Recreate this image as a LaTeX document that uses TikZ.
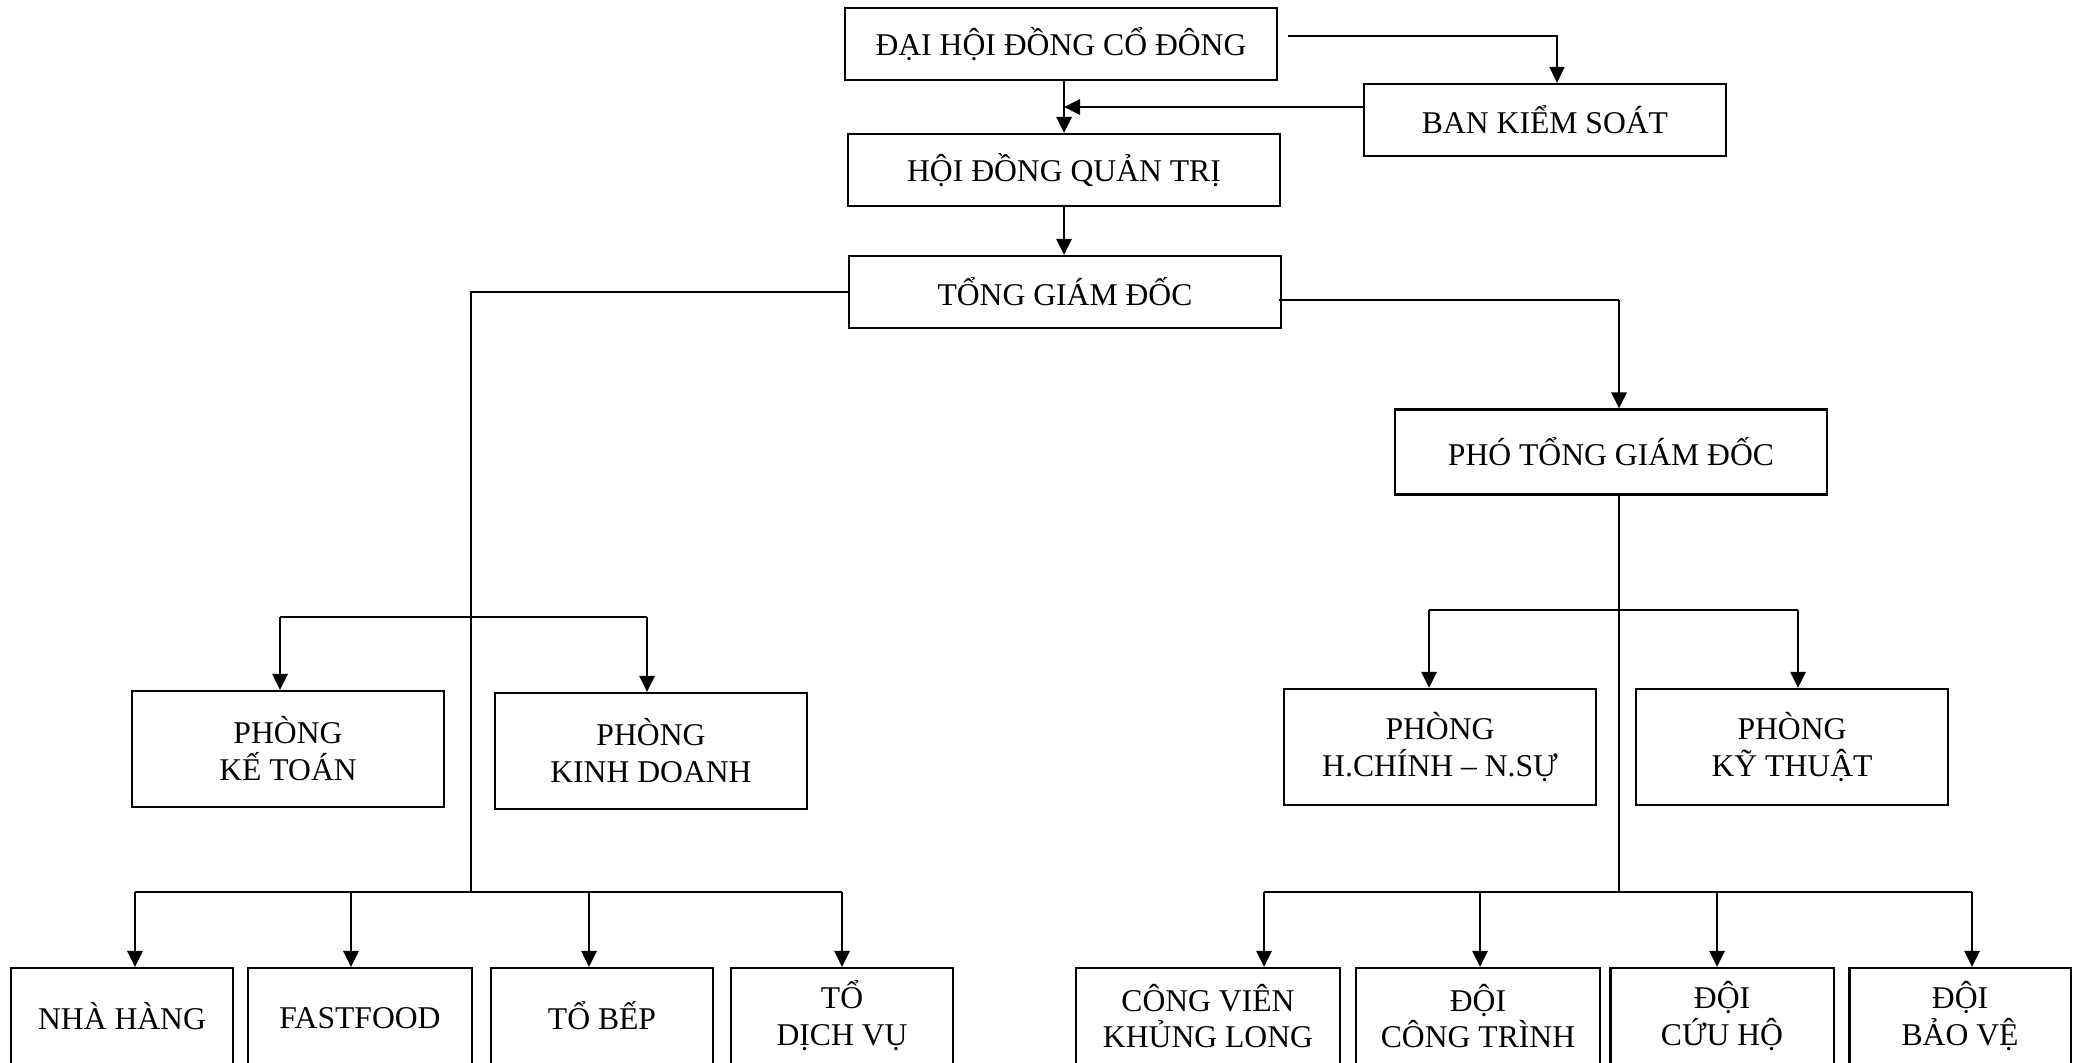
\documentclass[tikz,border=0pt]{standalone}
\usepackage{fontspec}
\setmainfont{Liberation Serif}
\usetikzlibrary{arrows.meta}

\begin{document}
\begin{tikzpicture}[x=0.01cm,y=-0.01cm,line width=0.8pt,
	box/.style={draw,line width=0.6pt,align=center,inner sep=0pt,font=\fontsize{9}{10.5}\selectfont},
	arr/.style={-{Triangle[length=0.16cm,width=0.15cm]}}]
	\useasboundingbox (0,0) rectangle (2079,1062);
	\clip (0,0) rectangle (2079,1062);

	\node[box,minimum width=4.31cm,minimum height=0.72cm] (dhcd) at (1061,44) {ĐẠI HỘI ĐỒNG CỔ ĐÔNG};
	\node[box,minimum width=3.62cm,minimum height=0.72cm] (bks) at (1545,120) {BAN KIỂM SOÁT};
	\node[box,minimum width=4.31cm,minimum height=0.72cm] (hdqt) at (1064,170) {HỘI ĐỒNG QUẢN TRỊ};
	\node[box,minimum width=4.31cm,minimum height=0.72cm] (tgd) at (1065,292) {TỔNG GIÁM ĐỐC};
	\node[box,minimum width=4.31cm,minimum height=0.85cm] (ptgd) at (1611,452) {PHÓ TỔNG GIÁM ĐỐC};

	\node[box,minimum width=3.11cm,minimum height=1.16cm] (pkt) at (288,749) {PHÒNG\\KẾ TOÁN};
	\node[box,minimum width=3.11cm,minimum height=1.16cm] (pkd) at (651,751) {PHÒNG\\KINH DOANH};
	\node[box,minimum width=3.11cm,minimum height=1.16cm] (phc) at (1440,747) {PHÒNG\\H.CHÍNH – N.SỰ};
	\node[box,minimum width=3.12cm,minimum height=1.16cm] (pkth) at (1792,747) {PHÒNG\\KỸ THUẬT};

	\node[box,minimum width=2.22cm,minimum height=0.96cm] (nh) at (122,1016) {NHÀ HÀNG};
	\node[box,minimum width=2.24cm,minimum height=0.96cm,text height=1.55ex] (ff) at (360,1016) {FASTFOOD};
	\node[box,minimum width=2.22cm,minimum height=0.96cm] (tb) at (602,1016) {TỔ BẾP};
	\node[box,minimum width=2.22cm,minimum height=0.96cm] (tdv) at (842,1016) {TỔ\\DỊCH VỤ};
	\node[box,minimum width=2.63cm,minimum height=0.96cm] (cvkl) at (1208,1016) {CÔNG VIÊN\\KHỦNG LONG};
	\node[box,minimum width=2.44cm,minimum height=0.96cm] (dct) at (1478,1016) {ĐỘI\\CÔNG TRÌNH};
	\node[box,minimum width=2.23cm,minimum height=0.96cm] (dch) at (1722,1016) {ĐỘI\\CỨU HỘ};
	\node[box,minimum width=2.21cm,minimum height=0.96cm] (dbv) at (1960,1016) {ĐỘI\\BẢO VỆ};

	\coordinate (dhr) at ([shift={(10,-8)}]dhcd.east);
	\coordinate (bkt) at ([shift={(12,0)}]bks.north);
	\coordinate (bkl) at ([shift={(0,-13)}]bks.west);
	\draw[arr,line width=0.4pt] (dhr) -| (bkt);
	\draw[arr] (bkl) -- (bkl -| hdqt.north);
	\draw[arr] (dhcd.south -| hdqt.north) -- (hdqt.north);
	\draw[arr] (hdqt.south) -- (hdqt.south |- tgd.north);

	% left
	\coordinate (tl) at (471,892);
	\coordinate (kt) at (280,617);
	\coordinate (kd) at (647,617);
	\draw[line width=0.5pt] (tgd.west) -| (tl);
	\draw (kt) -- (kd);
	\draw[arr] (kt) -- (kt |- pkt.north);
	\draw[arr] (kd) -- (kd |- pkd.north);
	\coordinate (b1) at (135,892);
	\coordinate (b2) at (351,892);
	\coordinate (b3) at (589,892);
	\coordinate (b4) at (842,892);
	\draw (b1) -- (b4);
	\foreach \c/\n in {b1/nh,b2/ff,b3/tb,b4/tdv}
		\draw[arr] (\c) -- (\c |- \n.north);

	% right
	\coordinate (tgr) at ([shift={(-3,8)}]tgd.east);
	\coordinate (pr) at (1619,300);
	\draw[line width=0.5pt] (tgr) -- (pr);
	\draw[arr] (pr) -- (pr |- ptgd.north);
	\coordinate (tr) at (1619,892);
	\draw (pr |- ptgd.south) -- (tr);
	\coordinate (hc) at (1429,610);
	\coordinate (kth) at (1798,610);
	\draw (hc) -- (kth);
	\draw[arr] (hc) -- (hc |- phc.north);
	\draw[arr] (kth) -- (kth |- pkth.north);
	\coordinate (c1) at (1264,892);
	\coordinate (c2) at (1480,892);
	\coordinate (c3) at (1717,892);
	\coordinate (c4) at (1972,892);
	\draw (c1) -- (c4);
	\foreach \c/\n in {c1/cvkl,c2/dct,c3/dch,c4/dbv}
		\draw[arr] (\c) -- (\c |- \n.north);
\end{tikzpicture}
\end{document}
